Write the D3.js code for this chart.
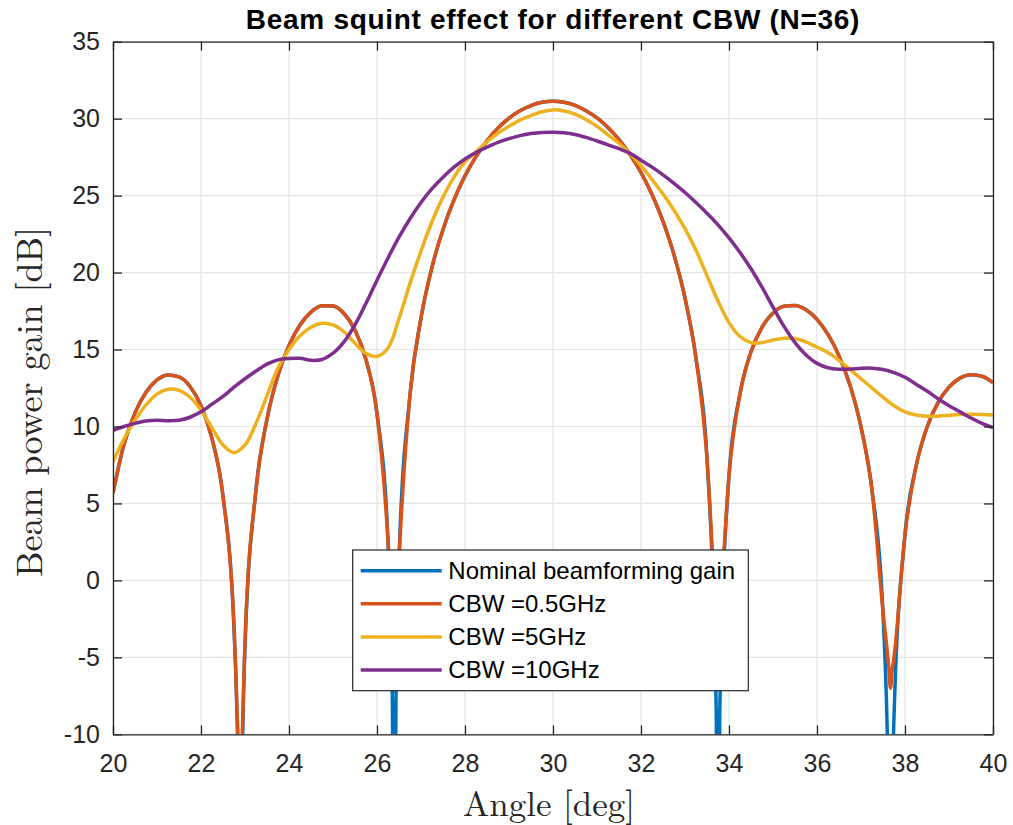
<!DOCTYPE html>
<html>
<head>
<meta charset="utf-8">
<script src="https://cdn.jsdelivr.net/npm/d3@7"></script>
<style>
  body { margin: 0; background: #fff; }
  svg { display: block; }
</style>
</head>
<body>
<div id="chart"></div>
<script>
// ============================= Datos =========================//
// angulos (deg) para las curvas de banda angosta, con puntos extra en los nulos
var angleFine = [20, 20.25, 20.5, 20.75, 21, 21.25, 21.5, 21.75, 22, 22.25, 22.5, 22.75, 22.85, 22.89, 22.93,
  23, 23.25, 23.5, 23.75, 24, 24.25, 24.5, 24.75, 25, 25.25, 25.5, 25.75, 26, 26.25, 26.35, 26.39, 26.43,
  26.5, 26.75, 27, 27.25, 27.5, 27.75, 28, 28.25, 28.5, 28.75, 29, 29.25, 29.5, 29.75, 30, 30.25, 30.5,
  30.75, 31, 31.25, 31.5, 31.75, 32, 32.25, 32.5, 32.75, 33, 33.25, 33.5, 33.71, 33.75, 33.79, 34, 34.25,
  34.5, 34.75, 35, 35.25, 35.5, 35.75, 36, 36.25, 36.5, 36.75, 37, 37.25, 37.5, 37.63, 37.67, 37.71, 37.75,
  38, 38.25, 38.5, 38.75, 39, 39.25, 39.5, 39.75, 40];

var gainNominal = [5.67, 8.84, 10.88, 12.22, 13.02, 13.35, 13.22, 12.60, 11.35, 9.21, 5.47, -3.17, -13.7, -40, -13.7,
  -4.33, 5.90, 10.48, 13.33, 15.26, 16.59, 17.43, 17.84, 17.83, 17.34, 16.27, 14.34, 10.84, 2.56, -7.9, -40, -7.9,
  1.39, 12.07, 17.05, 20.35, 22.80, 24.73, 26.28, 27.53, 28.56, 29.39, 30.03, 30.51, 30.85, 31.06, 31.13, 31.06, 30.86,
  30.52, 30.05, 29.43, 28.64, 27.67, 26.50, 25.07, 23.32, 21.15, 18.34, 14.44, 7.92, -8.5, -40, -8.5, 6.83, 12.13,
  14.86, 16.44, 17.37, 17.81, 17.86, 17.58, 16.96, 15.98, 14.59, 12.68, 9.96, 5.86, -2.17, -14.9, -40, -14.9, -8.9,
  2.97, 7.40, 9.95, 11.55, 12.56, 13.14, 13.36, 13.26, 12.85];

var gainCbw05 = [5.67, 8.84, 10.88, 12.22, 13.02, 13.35, 13.22, 12.60, 11.35, 9.21, 5.47, -2.9, -10.6, -12.5, -10.6,
  -4.0, 5.90, 10.48, 13.33, 15.26, 16.59, 17.43, 17.84, 17.83, 17.34, 16.27, 14.34, 10.84, 2.6, -2.5, -4.0, -2.5,
  1.5, 12.07, 17.05, 20.35, 22.80, 24.73, 26.28, 27.53, 28.56, 29.39, 30.03, 30.51, 30.85, 31.06, 31.13, 31.06, 30.86,
  30.52, 30.05, 29.43, 28.64, 27.67, 26.50, 25.07, 23.32, 21.15, 18.34, 14.44, 7.92, -2.5, -4.0, -2.5, 6.83, 12.13,
  14.86, 16.44, 17.37, 17.81, 17.86, 17.58, 16.96, 15.98, 14.59, 12.68, 9.96, 5.86, -2.0, -5.6, -7.0, -5.8, -5.0,
  3.0, 7.40, 9.95, 11.55, 12.56, 13.14, 13.36, 13.26, 12.85];

// angulos (deg) para las curvas de banda ancha
var angleGrid = [20, 20.25, 20.5, 20.75, 21, 21.25, 21.5, 21.75, 22, 22.25, 22.5, 22.75, 23, 23.25, 23.5, 23.75,
  24, 24.25, 24.5, 24.75, 25, 25.25, 25.5, 25.75, 26, 26.25, 26.5, 26.75, 27, 27.25, 27.5, 27.75, 28, 28.25, 28.5,
  28.75, 29, 29.25, 29.5, 29.75, 30, 30.25, 30.5, 30.75, 31, 31.25, 31.5, 31.75, 32, 32.25, 32.5, 32.75, 33, 33.25,
  33.5, 33.75, 34, 34.25, 34.5, 34.75, 35, 35.25, 35.5, 35.75, 36, 36.25, 36.5, 36.75, 37, 37.25, 37.5, 37.75, 38,
  38.25, 38.5, 38.75, 39, 39.25, 39.5, 39.75, 40];

var gainCbw5 = [7.7, 9.2, 10.4, 11.4, 12.1, 12.42, 12.35, 11.9, 11.07, 9.9, 8.8, 8.3, 8.8, 10.2, 12.0, 13.8,
  15.0, 15.9, 16.45, 16.7, 16.6, 16.15, 15.4, 14.75, 14.55, 15.1, 17.0, 19.3, 21.4, 23.3, 24.9, 26.2, 27.2, 27.85, 28.5,
  29.05, 29.5, 29.9, 30.2, 30.45, 30.57, 30.5, 30.3, 29.95, 29.5, 28.95, 28.4, 27.75, 26.95, 26.05, 25.1, 24.05, 22.85, 21.45,
  19.8, 18.15, 16.75, 15.85, 15.45, 15.45, 15.62, 15.74, 15.72, 15.5, 15.15, 14.8, 14.3, 13.7, 13.1, 12.5, 11.9, 11.35, 10.95,
  10.75, 10.67, 10.67, 10.72, 10.78, 10.8, 10.78, 10.75];

var gainCbw10 = [9.75, 10.0, 10.2, 10.35, 10.4, 10.37, 10.4, 10.6, 10.95, 11.45, 11.95, 12.55, 13.1, 13.6, 14.05, 14.33,
  14.42, 14.43, 14.3, 14.35, 14.76, 15.5, 16.6, 18.0, 19.5, 20.95, 22.3, 23.5, 24.55, 25.45, 26.2, 26.85, 27.38, 27.8, 28.15,
  28.46, 28.7, 28.9, 29.03, 29.1, 29.12, 29.08, 28.97, 28.78, 28.55, 28.3, 28.05, 27.75, 27.3, 26.85, 26.35, 25.8, 25.2, 24.55,
  23.85, 23.1, 22.25, 21.3, 20.25, 19.05, 17.75, 16.5, 15.45, 14.65, 14.1, 13.82, 13.72, 13.73, 13.78, 13.79, 13.7, 13.5, 13.2,
  12.75, 12.3, 11.8, 11.35, 10.95, 10.55, 10.2, 9.92];

var xTicks = [20, 22, 24, 26, 28, 30, 32, 34, 36, 38, 40];
var yTicks = [-10, -5, 0, 5, 10, 15, 20, 25, 30, 35];

var seriesNames = ["Nominal beamforming gain", "CBW =0.5GHz", "CBW =5GHz", "CBW =10GHz"];
var seriesColors = ["#0072BD", "#D95319", "#EDB120", "#7E2F8E"];

// ============================= Armado del grafico =========================//
var width = 1013, height = 825;
var margin = {top: 41.7, right: 20, bottom: 90.7, left: 113};
var innerW = width - margin.left - margin.right;
var innerH = height - margin.top - margin.bottom;

var axisColor = "#262626";
var sansFont = "'Liberation Sans', Arial, Helvetica, sans-serif";
var serifFont = "'Latin Modern Roman', 'CMU Serif', 'Liberation Serif', 'Times New Roman', serif";

var svg = d3.select("#chart").append("svg")
  .attr("width", width)
  .attr("height", height);

var g = svg.append("g")
  .attr("transform", "translate(" + margin.left + "," + margin.top + ")");

var x = d3.scaleLinear().domain([20, 40]).range([0, innerW]);
var y = d3.scaleLinear().domain([-10, 35]).range([innerH, 0]);

// grilla
g.append("g").selectAll("line.vgrid")
  .data(xTicks)
  .enter().append("line")
    .attr("x1", function(d) { return x(d); })
    .attr("x2", function(d) { return x(d); })
    .attr("y1", 0)
    .attr("y2", innerH)
    .attr("stroke", "#e3e3e3")
    .attr("stroke-width", 1.2);

g.append("g").selectAll("line.hgrid")
  .data(yTicks)
  .enter().append("line")
    .attr("x1", 0)
    .attr("x2", innerW)
    .attr("y1", function(d) { return y(d); })
    .attr("y2", function(d) { return y(d); })
    .attr("stroke", "#e3e3e3")
    .attr("stroke-width", 1.2);

// curvas
svg.append("defs").append("clipPath")
  .attr("id", "plot-clip")
  .append("rect")
    .attr("width", innerW)
    .attr("height", innerH);

var series = [
  {angles: angleFine, gains: gainNominal, curve: d3.curveMonotoneX},
  {angles: angleFine, gains: gainCbw05, curve: d3.curveMonotoneX},
  {angles: angleGrid, gains: gainCbw5, curve: d3.curveCatmullRom.alpha(0.5)},
  {angles: angleGrid, gains: gainCbw10, curve: d3.curveCatmullRom.alpha(0.5)}
];

var lines = g.append("g").attr("clip-path", "url(#plot-clip)");

series.forEach(function(s, i) {
  var pts = s.angles.map(function(a, j) { return [a, s.gains[j]]; });
  var line = d3.line()
    .x(function(d) { return x(d[0]); })
    .y(function(d) { return y(d[1]); })
    .curve(s.curve);
  lines.append("path")
    .datum(pts)
    .attr("fill", "none")
    .attr("stroke", seriesColors[i])
    .attr("stroke-width", 3.5)
    .attr("stroke-linejoin", "round")
    .attr("d", line);
});

// ejes (ticks hacia adentro, como MATLAB)
function styleAxis(sel) {
  sel.selectAll("path.domain").attr("stroke", axisColor).attr("stroke-width", 1.3);
  sel.selectAll(".tick line").attr("stroke", axisColor).attr("stroke-width", 1.3);
  sel.selectAll(".tick text")
    .attr("fill", axisColor)
    .style("font-family", sansFont)
    .style("font-size", "25px");
}

g.append("g")
  .attr("transform", "translate(0," + innerH + ")")
  .call(d3.axisBottom(x).tickValues(xTicks).tickSizeInner(-9).tickSizeOuter(0).tickPadding(20)
    .tickFormat(d3.format("d")))
  .call(styleAxis);

g.append("g")
  .call(d3.axisTop(x).tickValues(xTicks).tickSizeInner(-9).tickSizeOuter(0).tickFormat(""))
  .call(styleAxis);

g.append("g")
  .call(d3.axisLeft(y).tickValues(yTicks).tickSizeInner(-9).tickSizeOuter(0).tickPadding(13)
    .tickFormat(function(d) { return d < 0 ? "-" + Math.abs(d) : "" + d; }))
  .call(styleAxis);

g.append("g")
  .attr("transform", "translate(" + innerW + ",0)")
  .call(d3.axisRight(y).tickValues(yTicks).tickSizeInner(-9).tickSizeOuter(0).tickFormat(""))
  .call(styleAxis);

// titulo y etiquetas
svg.append("text")
  .attr("x", margin.left + innerW / 2)
  .attr("y", 29)
  .attr("text-anchor", "middle")
  .style("font-family", sansFont)
  .style("font-weight", "bold")
  .style("font-size", "28px")
  .style("letter-spacing", "0.7px")
  .attr("fill", "#000")
  .text("Beam squint effect for different CBW (N=36)");

svg.append("text")
  .attr("x", margin.left + innerW / 2 - 4)
  .attr("y", 816)
  .attr("text-anchor", "middle")
  .style("font-family", serifFont)
  .style("font-size", "35px")
  .attr("fill", axisColor)
  .text("Angle [deg]");

svg.append("text")
  .attr("transform", "translate(42," + (margin.top + innerH / 2 + 14) + ") rotate(-90)")
  .attr("text-anchor", "middle")
  .style("font-family", serifFont)
  .style("font-size", "36px")
  .attr("fill", axisColor)
  .text("Beam power gain [dB]");

// ============================= Leyenda =========================//
var legend = svg.append("g").attr("transform", "translate(352.7,550)");
var legendW = 395.6, legendH = 140.7, rowH = 33.1;

legend.append("rect")
  .attr("width", legendW)
  .attr("height", legendH)
  .attr("fill", "#fff")
  .attr("stroke", axisColor)
  .attr("stroke-width", 1.2);

var items = legend.selectAll("g.item")
  .data(seriesNames)
  .enter().append("g")
    .attr("transform", function(d, i) { return "translate(0," + (20.7 + i * rowH) + ")"; });

items.append("line")
  .attr("x1", 8)
  .attr("x2", 89)
  .attr("stroke", function(d, i) { return seriesColors[i]; })
  .attr("stroke-width", 3.5);

items.append("text")
  .attr("x", 95.6)
  .attr("dy", "0.35em")
  .style("font-family", sansFont)
  .style("font-size", "24px")
  .attr("fill", "#000")
  .text(function(d) { return d; });
</script>
</body>
</html>
